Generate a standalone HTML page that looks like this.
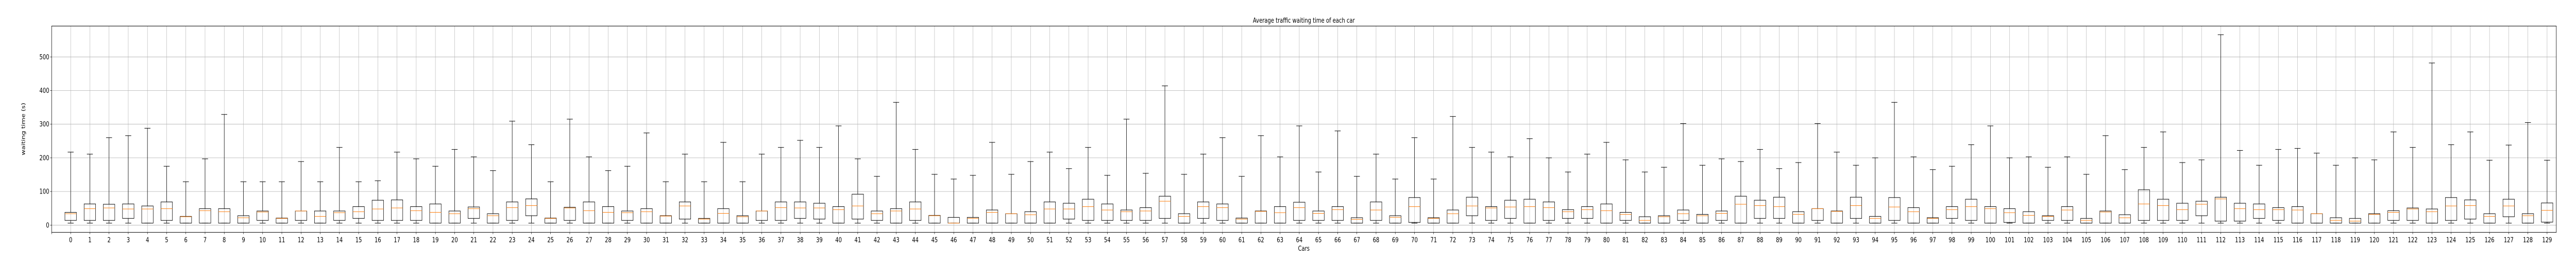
<!DOCTYPE html>
<html><head><meta charset="utf-8"><style>
html,body{margin:0;padding:0;background:#fff;width:100%;height:100%;overflow:hidden;}
svg{display:block;font-family:"DejaVu Sans","Liberation Sans",sans-serif;width:100%;height:100%;}
</style></head><body>
<svg id="chart" viewBox="0 0 6500 500" preserveAspectRatio="none" xmlns="http://www.w3.org/2000/svg">
<rect width="6500" height="500" fill="#fff"/>
<g id="grid"></g>
<g id="boxes"></g>
<rect x="130.3" y="50.5" width="6320" height="399.8" fill="none" stroke="#000" stroke-width="1"/>
<g id="ticks"></g>
<text x="3290" y="44" font-size="13" text-anchor="middle">Average traffic waiting time of each car</text>
<text x="3290" y="486" font-size="13" text-anchor="middle">Cars</text>
<text x="63" y="250" font-size="13" text-anchor="middle" transform="rotate(-90 63 250)">waiting time (s)</text>
</svg>
<script>
const whiskerHigh=[217,211,260,266,288,175,129,197,329,129,129,129,189,129,231,129,132,217,197,175,225,203,162,309,239,129,315,203,162,175,274,129,211,129,246,129,211,231,252,231,295,197,145,365,225,151,137,148,246,151,189,217,168,231,148,315,154,414,151,211,260,145,266,203,295,158,280,145,211,137,260,137,323,231,217,203,257,200,158,211,246,194,158,172,302,178,197,189,225,168,186,302,217,178,200,365,203,165,175,239,295,200,203,172,203,151,266,165,231,277,186,194,566,222,178,225,228,214,178,200,194,277,231,482,239,277,193,238,305,193];
const q3Values=[38,63,62,63,57,69,26,49,49,28,42,21,42,42,42,55,74,75,55,63,42,54,34,69,78,21,53,69,55,42,49,28,69,20,49,28,42,69,69,65,55,92,42,49,69,29,23,23,45,34,40,69,65,77,63,45,52,86,34,69,63,21,42,55,68,42,55,22,69,28,82,22,45,83,55,74,77,69,46,55,63,38,25,28,45,32,42,86,74,83,40,49,42,83,26,82,52,22,55,77,55,49,40,28,55,20,42,31,105,77,65,71,83,65,63,52,55,34,22,20,34,43,51,48,82,75,34,77,34,66];
const medianValues=[34,49,51,48,48,49,25,43,40,22,39,20,42,26,37,40,48,51,43,38,34,49,28,52,58,20,51,43,38,37,40,27,57,18,35,25,42,52,51,51,46,57,34,42,48,28,6,20,38,34,31,48,48,55,45,40,42,71,26,55,52,18,41,37,52,35,46,17,45,23,55,20,34,57,51,54,55,52,40,46,43,32,14,25,34,28,35,62,58,55,32,49,41,58,20,54,40,20,46,55,49,37,29,26,45,14,39,22,63,58,46,62,78,49,46,46,45,34,14,12,32,38,48,40,57,58,26,57,28,44];
const q1Values=[14,14,14,20,6,14,6,6,6,6,14,6,14,6,14,20,14,14,14,6,6,20,6,14,28,6,14,6,6,14,6,6,18,6,6,6,14,14,20,18,6,18,14,6,14,6,6,6,6,6,6,6,18,14,14,14,14,20,6,20,14,6,6,6,14,14,14,6,14,6,8,6,6,28,14,20,6,14,20,20,6,14,6,6,14,6,14,6,20,20,6,14,6,20,6,14,6,6,20,14,6,8,6,14,14,6,6,6,14,14,14,28,12,12,20,14,6,6,6,6,6,14,14,6,14,18,6,25,6,9];
const whiskerLow=[6,6,6,6,6,6,6,6,6,6,6,6,6,6,6,6,6,6,6,6,6,6,6,6,6,6,6,6,6,6,6,6,6,6,6,6,6,6,6,6,6,6,6,6,6,6,6,6,6,6,6,6,6,6,6,6,6,6,6,6,6,6,6,6,6,6,6,6,6,6,6,6,6,6,6,6,6,6,6,6,6,6,6,6,6,6,6,6,6,6,6,6,6,6,6,6,6,6,6,6,6,6,6,6,6,6,6,6,6,6,6,6,6,6,6,6,6,6,6,6,6,6,6,6,6,6,6,6,6,6];
const yTicks=[0,100,200,300,400,500];

const NS="http://www.w3.org/2000/svg";
const X0=178.3, DX=48.44, Y0=436.3, SY=0.652;
function xs(i){return X0+i*DX;}
function ys(v){return Y0-v*SY;}
function mk(tag,attrs,parent){const e=document.createElementNS(NS,tag);for(const k in attrs)e.setAttribute(k,attrs[k]);parent.appendChild(e);return e;}
const grid=document.getElementById('grid'),boxes=document.getElementById('boxes'),ticks=document.getElementById('ticks');
const L=130.3,R=6450.3,T=50.5,B=450.3;
yTicks.forEach(v=>{
  const g=mk('line',{x1:L,x2:R,y1:ys(v),y2:ys(v),stroke:'#b0b0b0','stroke-width':0.8},grid);
  
  
  const t=mk('line',{x1:L-3.5,x2:L,y1:ys(v),y2:ys(v),stroke:'#000','stroke-width':0.8},ticks);
  
  
  const lb=mk('text',{x:L-6,y:ys(v)+4.5,'font-size':13,'text-anchor':'end'},ticks);
  lb.textContent=v;
  
  
});
const lt=mk('line',{x1:L,x2:L,y1:B,y2:B+3.5,stroke:'#000','stroke-width':0.8},ticks);


whiskerHigh.forEach((_,i)=>{
  const x=xs(i);
  const g=mk('line',{x1:x,x2:x,y1:T,y2:B,stroke:'#b0b0b0','stroke-width':0.8},grid);
  
  
  const t=mk('line',{x1:x,x2:x,y1:B,y2:B+3.5,stroke:'#000','stroke-width':0.8},ticks);
  
  
  const lb=mk('text',{x:x,y:B+19,'font-size':13,'text-anchor':'middle'},ticks);
  lb.textContent=i;
  
  
  const grp=mk('g',{},boxes);
  
  
  const hw=14.5,cw=7.5;
  mk('line',{x1:x,x2:x,y1:ys(q3Values[i]),y2:ys(whiskerHigh[i]),stroke:'#000','stroke-width':1},grp);
  mk('line',{x1:x,x2:x,y1:ys(q1Values[i]),y2:ys(whiskerLow[i]),stroke:'#000','stroke-width':1},grp);
  mk('line',{x1:x-cw,x2:x+cw,y1:ys(whiskerHigh[i]),y2:ys(whiskerHigh[i]),stroke:'#000','stroke-width':1},grp);
  mk('line',{x1:x-cw,x2:x+cw,y1:ys(whiskerLow[i]),y2:ys(whiskerLow[i]),stroke:'#000','stroke-width':1},grp);
  mk('rect',{x:x-hw,y:ys(q3Values[i]),width:2*hw,height:Math.max(0.5,ys(q1Values[i])-ys(q3Values[i])),fill:'none',stroke:'#000','stroke-width':1},grp);
  mk('line',{x1:x-hw,x2:x+hw,y1:ys(medianValues[i]),y2:ys(medianValues[i]),stroke:'#ff7f0e','stroke-width':1},grp);
});
</script>
</body></html>
